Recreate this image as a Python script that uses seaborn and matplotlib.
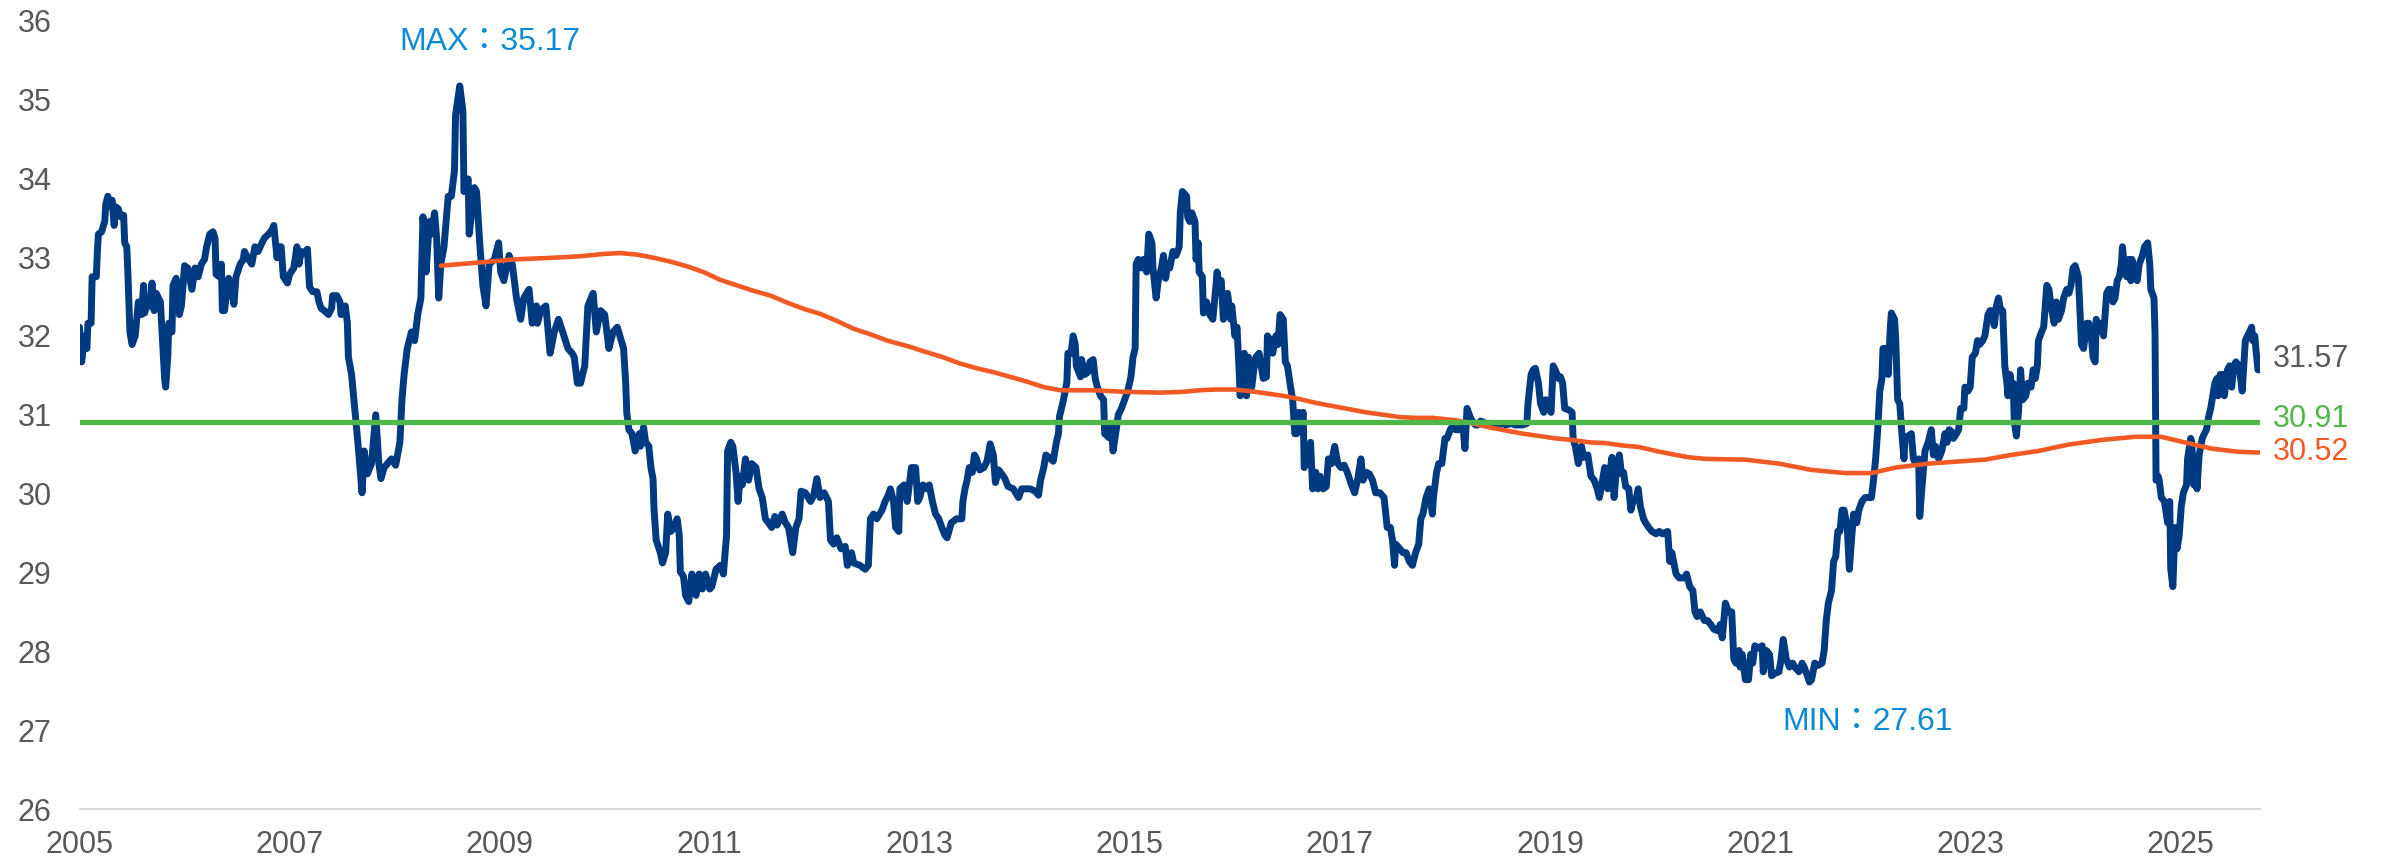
import matplotlib
matplotlib.use("Agg")
import matplotlib.pyplot as plt
import pandas as pd
import seaborn as sns

# ---------------------------------------------------------------- data
# Exchange-rate series (decimal year, value)
rate_t = [
    2005.00, 2005.02, 2005.05, 2005.07, 2005.08, 2005.11, 2005.12, 2005.16, 2005.17, 2005.18,
    2005.21, 2005.24, 2005.25, 2005.27, 2005.29, 2005.31, 2005.33, 2005.34, 2005.37, 2005.39,
    2005.42, 2005.43, 2005.45, 2005.46, 2005.48, 2005.50, 2005.53, 2005.56, 2005.59, 2005.61,
    2005.62, 2005.65, 2005.67, 2005.69, 2005.71, 2005.73, 2005.77, 2005.79, 2005.81, 2005.82,
    2005.84, 2005.85, 2005.88, 2005.89, 2005.92, 2005.95, 2005.97,
    2006.00, 2006.03, 2006.07, 2006.10, 2006.13, 2006.16, 2006.19, 2006.21, 2006.24, 2006.27,
    2006.29, 2006.30, 2006.33, 2006.35, 2006.36, 2006.38, 2006.42, 2006.45, 2006.47, 2006.49,
    2006.53, 2006.56, 2006.57, 2006.61, 2006.64, 2006.67, 2006.70, 2006.73, 2006.76, 2006.80,
    2006.83, 2006.85, 2006.88, 2006.90, 2006.92, 2006.94, 2006.98,
    2007.00, 2007.04, 2007.07, 2007.09, 2007.11, 2007.14, 2007.17, 2007.19, 2007.22, 2007.26,
    2007.28, 2007.30, 2007.33, 2007.37, 2007.40, 2007.41, 2007.45, 2007.48, 2007.49, 2007.53,
    2007.55, 2007.56, 2007.59, 2007.62, 2007.65, 2007.69, 2007.71, 2007.74, 2007.78, 2007.82,
    2007.85, 2007.87, 2007.90, 2007.97,
    2008.01, 2008.05, 2008.07, 2008.09, 2008.12, 2008.16, 2008.19, 2008.22, 2008.25, 2008.27,
    2008.30, 2008.33, 2008.35, 2008.38, 2008.40, 2008.42, 2008.44, 2008.47, 2008.51, 2008.54,
    2008.57, 2008.58, 2008.62, 2008.65, 2008.66, 2008.70, 2008.71, 2008.76, 2008.78, 2008.81,
    2008.84, 2008.87, 2008.90, 2008.95, 2008.99,
    2009.01, 2009.04, 2009.09, 2009.12, 2009.16, 2009.20, 2009.23, 2009.28, 2009.31, 2009.35,
    2009.36, 2009.39, 2009.44, 2009.48, 2009.52, 2009.56, 2009.60, 2009.65, 2009.69, 2009.71,
    2009.74, 2009.77, 2009.81, 2009.84, 2009.89, 2009.92, 2009.96,
    2010.00, 2010.04, 2010.08, 2010.12, 2010.18, 2010.20, 2010.21, 2010.23, 2010.26, 2010.29,
    2010.33, 2010.34, 2010.37, 2010.39, 2010.42, 2010.44, 2010.46, 2010.47, 2010.49, 2010.53,
    2010.55, 2010.58, 2010.60, 2010.63, 2010.66, 2010.69, 2010.71, 2010.72, 2010.75, 2010.77,
    2010.80, 2010.83, 2010.87, 2010.90, 2010.93, 2010.96,
    2011.00, 2011.02, 2011.06, 2011.10, 2011.13, 2011.16, 2011.17, 2011.20, 2011.22, 2011.25,
    2011.27, 2011.29, 2011.31, 2011.34, 2011.37, 2011.40, 2011.44, 2011.47, 2011.50, 2011.53,
    2011.56, 2011.59, 2011.62, 2011.64, 2011.69, 2011.72, 2011.75, 2011.79, 2011.82, 2011.85,
    2011.87, 2011.91, 2011.96, 2011.99,
    2012.02, 2012.05, 2012.09, 2012.13, 2012.15, 2012.18, 2012.21, 2012.25, 2012.29, 2012.31,
    2012.35, 2012.37, 2012.43, 2012.48, 2012.51, 2012.53, 2012.56, 2012.59, 2012.64, 2012.67,
    2012.70, 2012.72, 2012.75, 2012.77, 2012.80, 2012.81, 2012.85, 2012.88, 2012.90, 2012.92,
    2012.96, 2012.98,
    2013.00, 2013.03, 2013.07, 2013.09, 2013.12, 2013.15, 2013.18, 2013.21, 2013.24, 2013.26,
    2013.30, 2013.35, 2013.40, 2013.41, 2013.43, 2013.45, 2013.47, 2013.50, 2013.52, 2013.54,
    2013.57, 2013.61, 2013.64, 2013.67, 2013.70, 2013.72, 2013.75, 2013.78, 2013.81, 2013.84,
    2013.89, 2013.94, 2013.97,
    2014.00, 2014.05, 2014.10, 2014.13, 2014.15, 2014.18, 2014.20, 2014.23, 2014.27, 2014.30,
    2014.32, 2014.33, 2014.36, 2014.38, 2014.40, 2014.41, 2014.44, 2014.46, 2014.48, 2014.49,
    2014.53, 2014.54, 2014.57, 2014.60, 2014.62, 2014.65, 2014.67, 2014.69, 2014.72, 2014.75,
    2014.76, 2014.80, 2014.82, 2014.84, 2014.87, 2014.89, 2014.92, 2014.95, 2014.98,
    2015.01, 2015.03, 2015.05, 2015.06, 2015.08, 2015.11, 2015.13, 2015.16, 2015.18, 2015.21,
    2015.22, 2015.25, 2015.27, 2015.30, 2015.32, 2015.34, 2015.36, 2015.38, 2015.41, 2015.44,
    2015.47, 2015.48, 2015.50, 2015.54, 2015.55, 2015.57, 2015.59, 2015.62, 2015.63, 2015.65,
    2015.66, 2015.69, 2015.70, 2015.73, 2015.76, 2015.79, 2015.82, 2015.83, 2015.85, 2015.87,
    2015.89, 2015.91, 2015.93, 2015.96, 2015.97,
    2016.00, 2016.02, 2016.04, 2016.05, 2016.07, 2016.09, 2016.11, 2016.13, 2016.16, 2016.18,
    2016.20, 2016.23, 2016.27, 2016.30, 2016.31, 2016.34, 2016.36, 2016.39, 2016.41, 2016.43,
    2016.46, 2016.48, 2016.50, 2016.53, 2016.55, 2016.57, 2016.59, 2016.61, 2016.63, 2016.65,
    2016.66, 2016.69, 2016.72, 2016.74, 2016.77, 2016.79, 2016.81, 2016.84, 2016.87, 2016.89,
    2016.92, 2016.95, 2016.98,
    2017.01, 2017.04, 2017.07, 2017.11, 2017.14, 2017.17, 2017.20, 2017.22, 2017.25, 2017.28,
    2017.31, 2017.34, 2017.38, 2017.42, 2017.45, 2017.48, 2017.50, 2017.52, 2017.53, 2017.57,
    2017.60, 2017.63, 2017.66, 2017.69, 2017.72, 2017.75, 2017.77, 2017.79, 2017.82, 2017.85,
    2017.88, 2017.89, 2017.92, 2017.94, 2017.97,
    2018.00, 2018.02, 2018.05, 2018.08, 2018.10, 2018.13, 2018.17, 2018.19, 2018.21, 2018.24,
    2018.26, 2018.29, 2018.31, 2018.34, 2018.39, 2018.44, 2018.48, 2018.55, 2018.58, 2018.63,
    2018.67, 2018.74, 2018.78, 2018.79, 2018.82, 2018.84, 2018.86, 2018.89, 2018.91, 2018.94,
    2018.96,
    2019.01, 2019.03, 2019.05, 2019.08, 2019.10, 2019.12, 2019.14, 2019.18, 2019.21, 2019.22,
    2019.24, 2019.27, 2019.30, 2019.32, 2019.36, 2019.39, 2019.42, 2019.45, 2019.47, 2019.50,
    2019.52, 2019.55, 2019.57, 2019.59, 2019.61, 2019.63, 2019.66, 2019.68, 2019.70, 2019.72,
    2019.75, 2019.77, 2019.79, 2019.82, 2019.84, 2019.86, 2019.89, 2019.91, 2019.94, 2019.97,
    2020.01, 2020.04, 2020.07, 2020.12, 2020.14, 2020.16, 2020.20, 2020.23, 2020.28, 2020.30,
    2020.33, 2020.36, 2020.38, 2020.40, 2020.43, 2020.47, 2020.50, 2020.53, 2020.56, 2020.60,
    2020.62, 2020.64, 2020.67, 2020.70, 2020.73, 2020.75, 2020.77, 2020.80, 2020.81, 2020.83,
    2020.86, 2020.89, 2020.91, 2020.93, 2020.95, 2020.99,
    2021.02, 2021.03, 2021.06, 2021.09, 2021.11, 2021.14, 2021.18, 2021.20, 2021.22, 2021.25,
    2021.28, 2021.31, 2021.33, 2021.37, 2021.40, 2021.42, 2021.45, 2021.47, 2021.49, 2021.52,
    2021.55, 2021.59, 2021.61, 2021.63, 2021.65, 2021.68, 2021.70, 2021.72, 2021.74, 2021.76,
    2021.78, 2021.80, 2021.83, 2021.85, 2021.87, 2021.89, 2021.92, 2021.94, 2021.97,
    2022.00, 2022.03, 2022.06, 2022.08, 2022.10, 2022.12, 2022.14, 2022.16, 2022.17, 2022.21,
    2022.22, 2022.24, 2022.25, 2022.28, 2022.29, 2022.31, 2022.33, 2022.35, 2022.37, 2022.38,
    2022.41, 2022.44, 2022.46, 2022.48, 2022.51, 2022.52, 2022.54, 2022.57, 2022.60, 2022.63,
    2022.65, 2022.67, 2022.70, 2022.73, 2022.76, 2022.78, 2022.80, 2022.82, 2022.84, 2022.87,
    2022.89, 2022.91, 2022.94, 2022.95, 2022.98,
    2023.00, 2023.02, 2023.05, 2023.07, 2023.09, 2023.12, 2023.14, 2023.17, 2023.19, 2023.20,
    2023.23, 2023.25, 2023.27, 2023.29, 2023.31, 2023.33, 2023.35, 2023.36, 2023.38, 2023.39,
    2023.41, 2023.42, 2023.44, 2023.46, 2023.48, 2023.50, 2023.53, 2023.55, 2023.58, 2023.60,
    2023.62, 2023.64, 2023.65, 2023.68, 2023.70, 2023.73, 2023.75, 2023.77, 2023.80, 2023.82,
    2023.84, 2023.87, 2023.89, 2023.92, 2023.94, 2023.96, 2023.98,
    2024.00, 2024.03, 2024.04, 2024.06, 2024.08, 2024.11, 2024.13, 2024.15, 2024.17, 2024.19,
    2024.20, 2024.22, 2024.25, 2024.27, 2024.30, 2024.32, 2024.34, 2024.36, 2024.38, 2024.40,
    2024.42, 2024.44, 2024.45, 2024.47, 2024.49, 2024.51, 2024.53, 2024.54, 2024.57, 2024.59,
    2024.61, 2024.64, 2024.66, 2024.69, 2024.71, 2024.72, 2024.75, 2024.76, 2024.77, 2024.79,
    2024.80, 2024.82, 2024.85, 2024.88, 2024.90, 2024.91, 2024.93, 2024.95, 2024.97, 2024.99,
    2025.01, 2025.03, 2025.06, 2025.07, 2025.10, 2025.11, 2025.13, 2025.15, 2025.16, 2025.18,
    2025.21, 2025.23, 2025.25, 2025.27, 2025.29, 2025.31, 2025.33, 2025.35, 2025.36, 2025.38,
    2025.41, 2025.42, 2025.45, 2025.47, 2025.49, 2025.51, 2025.53, 2025.56, 2025.57, 2025.59,
    2025.61, 2025.62, 2025.64, 2025.66, 2025.68, 2025.69, 2025.71, 2025.72, 2025.74, 2025.76,
]
rate_v = [
    32.11, 31.67, 32.00, 31.84, 32.16, 32.16, 32.75, 32.75, 33.07, 33.29,
    33.32, 33.45, 33.67, 33.77, 33.64, 33.72, 33.40, 33.64, 33.61, 33.51,
    33.53, 33.18, 33.13, 32.81, 32.05, 31.89, 32.00, 32.43, 32.27, 32.64,
    32.29, 32.43, 32.38, 32.67, 32.32, 32.54, 32.43, 31.94, 31.46, 31.35,
    31.73, 32.16, 32.05, 32.64, 32.73, 32.27, 32.38,
    32.89, 32.86, 32.59, 32.86, 32.75, 32.91, 32.97, 33.13, 33.29, 33.32,
    33.24, 32.78, 32.75, 32.91, 32.32, 32.32, 32.73, 32.59, 32.40, 32.75,
    32.91, 32.97, 33.07, 32.97, 32.91, 33.13, 33.07, 33.16, 33.24, 33.29,
    33.34, 33.40, 32.99, 33.13, 33.13, 32.75, 32.67,
    32.78, 32.86, 33.13, 32.91, 33.07, 33.05, 33.10, 32.62, 32.56, 32.56,
    32.43, 32.35, 32.32, 32.27, 32.35, 32.51, 32.51, 32.43, 32.27, 32.38,
    32.16, 31.73, 31.51, 31.08, 30.65, 30.01, 30.54, 30.25, 30.38, 31.00,
    30.38, 30.19, 30.33, 30.44,
    30.36, 30.65, 31.19, 31.51, 31.84, 32.05, 31.94, 32.27, 32.48, 33.51,
    32.81, 33.45, 33.29, 33.56, 33.24, 32.48, 32.91, 33.13, 33.77, 33.77,
    34.10, 34.80, 35.17, 34.85, 33.83, 33.99, 33.29, 33.88, 33.83, 33.18,
    32.64, 32.38, 32.91, 32.97, 33.18,
    32.81, 32.70, 33.02, 32.91, 32.48, 32.21, 32.48, 32.59, 32.16, 32.38,
    32.16, 32.32, 32.38, 31.78, 32.05, 32.21, 32.05, 31.84, 31.78, 31.73,
    31.40, 31.40, 31.62, 32.38, 32.54, 32.05, 32.32,
    32.27, 31.84, 32.05, 32.11, 31.84, 31.40, 31.03, 30.81, 30.76, 30.54,
    30.76, 30.60, 30.84, 30.65, 30.60, 30.33, 30.19, 29.79, 29.41, 29.25,
    29.12, 29.25, 29.74, 29.52, 29.57, 29.68, 29.47, 29.01, 28.95, 28.71,
    28.63, 28.98, 28.71, 28.98, 28.79, 28.98,
    28.79, 28.82, 29.04, 29.09, 28.98, 29.47, 30.54, 30.65, 30.60, 30.27,
    29.90, 30.22, 30.11, 30.44, 30.17, 30.38, 30.33, 30.06, 29.95, 29.68,
    29.63, 29.57, 29.71, 29.60, 29.74, 29.63, 29.57, 29.25, 29.57, 29.68,
    30.03, 30.01, 29.90, 29.98,
    30.19, 29.95, 30.01, 29.90, 29.41, 29.36, 29.44, 29.30, 29.33, 29.09,
    29.25, 29.12, 29.09, 29.04, 29.09, 29.68, 29.74, 29.68, 29.79, 29.90,
    29.98, 30.06, 29.90, 29.57, 29.52, 30.06, 30.11, 29.90, 30.11, 30.33,
    30.33, 29.90,
    29.95, 30.11, 30.06, 30.11, 29.90, 29.74, 29.68, 29.57, 29.47, 29.44,
    29.63, 29.68, 29.68, 29.90, 30.06, 30.17, 30.33, 30.27, 30.49, 30.44,
    30.30, 30.33, 30.41, 30.63, 30.49, 30.14, 30.30, 30.25, 30.19, 30.09,
    30.06, 29.95, 30.06,
    30.06, 30.06, 30.03, 29.98, 30.17, 30.33, 30.49, 30.46, 30.41, 30.65,
    30.76, 30.98, 31.14, 31.27, 31.41, 31.78, 31.78, 32.00, 31.89, 31.62,
    31.48, 31.70, 31.51, 31.54, 31.67, 31.70, 31.46, 31.35, 31.24, 31.19,
    30.76, 30.71, 30.87, 30.54, 30.81, 31.00, 31.08, 31.19, 31.30,
    31.48, 31.73, 31.84, 32.91, 32.97, 32.86, 32.97, 32.81, 33.29, 33.18,
    32.86, 32.48, 32.70, 32.86, 33.02, 32.73, 32.91, 32.86, 33.07, 33.02,
    33.13, 33.56, 33.83, 33.77, 33.51, 33.45, 33.56, 33.45, 32.97, 33.18,
    32.81, 32.75, 32.29, 32.43, 32.27, 32.21, 32.64, 32.81, 32.64, 32.70,
    32.21, 32.27, 32.54, 32.21, 32.38,
    32.00, 32.11, 31.57, 31.24, 31.62, 31.78, 31.24, 31.73, 31.35, 31.57,
    31.73, 31.78, 31.46, 31.48, 32.00, 31.94, 31.78, 32.00, 31.89, 32.27,
    32.21, 31.67, 31.62, 31.35, 31.19, 30.76, 30.76, 31.03, 30.92, 31.03,
    30.33, 30.44, 30.65, 30.06, 30.27, 30.06, 30.22, 30.06, 30.09, 30.44,
    30.38, 30.60, 30.38,
    30.33, 30.36, 30.27, 30.11, 30.01, 30.19, 30.44, 30.17, 30.27, 30.25,
    30.17, 30.01, 30.01, 29.95, 29.57, 29.57, 29.41, 29.09, 29.36, 29.30,
    29.25, 29.25, 29.14, 29.09, 29.25, 29.36, 29.68, 29.74, 29.95, 30.06,
    29.74, 29.95, 30.27, 30.38, 30.38,
    30.70, 30.70, 30.81, 30.87, 30.81, 30.81, 30.87, 30.57, 31.08, 30.97,
    30.92, 30.87, 30.87, 30.92, 30.89, 30.89, 30.87, 30.89, 30.87, 30.89,
    30.87, 30.87, 30.89, 31.14, 31.51, 31.57, 31.59, 31.40, 31.14, 31.03,
    31.19,
    31.03, 31.62, 31.57, 31.46, 31.48, 31.40, 31.08, 31.06, 31.03, 30.70,
    30.60, 30.38, 30.60, 30.46, 30.49, 30.22, 30.17, 30.06, 29.95, 30.17,
    30.33, 30.06, 30.27, 30.46, 29.95, 30.27, 30.49, 30.25, 30.27, 30.09,
    30.06, 29.79, 29.90, 29.93, 30.06, 29.84, 29.68, 29.63, 29.57, 29.52,
    29.49, 29.52, 29.49, 29.52, 29.14, 29.25, 28.98, 28.93, 28.93, 28.98,
    28.82, 28.77, 28.50, 28.44, 28.50, 28.39, 28.39, 28.34, 28.28, 28.26,
    28.34, 28.17, 28.61, 28.50, 28.50, 27.90, 27.85, 28.01, 27.80, 27.96,
    27.64, 27.64, 27.96, 27.85, 28.07, 28.04,
    28.07, 27.74, 28.01, 27.96, 27.69, 27.72, 27.74, 27.90, 28.15, 27.90,
    27.80, 27.85, 27.80, 27.74, 27.85, 27.80, 27.69, 27.61, 27.64, 27.85,
    27.82, 27.85, 28.01, 28.39, 28.61, 28.77, 29.14, 29.20, 29.52, 29.52,
    29.79, 29.79, 29.57, 29.04, 29.41, 29.74, 29.63, 29.79, 29.90,
    29.95, 29.95, 29.95, 30.17, 30.44, 30.81, 31.30, 31.46, 31.84, 31.84,
    31.51, 32.11, 32.29, 32.21, 32.00, 31.19, 31.14, 30.76, 30.44, 30.70,
    30.73, 30.76, 30.44, 30.38, 30.44, 29.71, 30.06, 30.54, 30.65, 30.81,
    30.49, 30.60, 30.44, 30.54, 30.76, 30.65, 30.81, 30.79, 30.70, 30.76,
    30.81, 31.08, 31.08, 31.35, 31.30,
    31.35, 31.73, 31.78, 31.94, 31.89, 31.94, 32.00, 32.27, 32.32, 32.32,
    32.13, 32.38, 32.48, 32.32, 32.32, 31.62, 31.40, 31.24, 31.51, 31.30,
    31.40, 30.92, 30.73, 31.03, 31.57, 31.19, 31.24, 31.40, 31.35, 31.57,
    31.46, 31.62, 31.94, 32.05, 32.11, 32.64, 32.59, 32.38, 32.16, 32.43,
    32.21, 32.32, 32.48, 32.59, 32.54, 32.64, 32.86,
    32.89, 32.75, 32.48, 31.89, 31.84, 32.16, 32.16, 32.05, 31.73, 31.67,
    32.21, 32.05, 32.16, 32.00, 32.54, 32.59, 32.59, 32.43, 32.48, 32.70,
    32.75, 32.91, 33.13, 32.86, 32.75, 32.97, 32.70, 32.97, 32.75, 32.70,
    32.91, 33.02, 33.13, 33.18, 32.91, 32.59, 32.48, 32.05, 30.17, 30.22,
    30.17, 29.95, 29.90, 29.63, 29.90, 29.04, 28.82, 29.57, 29.30, 29.47,
    29.84, 30.01, 30.11, 30.44, 30.70, 30.65, 30.11, 30.33, 30.06, 30.49,
    30.70, 30.76, 30.81, 30.97, 31.08, 31.24, 31.40, 31.46, 31.24, 31.51,
    31.51, 31.24, 31.57, 31.62, 31.35, 31.62, 31.67, 31.62, 31.51, 31.30,
    31.73, 31.94, 32.00, 32.05, 32.11, 31.94, 32.00, 31.84, 31.57, 31.57,
]

# Long moving average (starts once enough history is available)
ma_t = [
    2008.44, 2008.80, 2009.14, 2009.50, 2009.77, 2010.00, 2010.15, 2010.31, 2010.47, 2010.63,
    2010.79, 2010.94, 2011.10, 2011.26, 2011.42, 2011.58, 2011.74, 2011.90, 2012.05, 2012.21,
    2012.37, 2012.53, 2012.69, 2012.91, 2013.07, 2013.22, 2013.38, 2013.54, 2013.70, 2013.86,
    2014.02, 2014.18, 2014.34, 2014.65, 2014.97, 2015.29, 2015.50, 2015.66, 2015.82, 2015.98,
    2016.14, 2016.30, 2016.46, 2016.61, 2016.77, 2016.93, 2017.09, 2017.25, 2017.41, 2017.57,
    2017.72, 2017.88, 2018.10, 2018.26, 2018.42, 2018.58, 2018.74, 2018.90, 2019.05, 2019.21,
    2019.37, 2019.53, 2019.69, 2019.85, 2020.01, 2020.16, 2020.32, 2020.48, 2020.86, 2021.18,
    2021.49, 2021.81, 2022.06, 2022.29, 2022.60, 2022.92, 2023.14, 2023.39, 2023.65, 2023.93,
    2024.25, 2024.57, 2024.82, 2025.04, 2025.30, 2025.55, 2025.76,
]
ma_v = [
    32.89, 32.93, 32.97, 32.99, 33.01, 33.04, 33.05, 33.03, 32.99, 32.94,
    32.88, 32.81, 32.71, 32.64, 32.57, 32.51, 32.42, 32.34, 32.28, 32.19,
    32.09, 32.02, 31.94, 31.86, 31.79, 31.73, 31.65, 31.59, 31.54, 31.48,
    31.42, 31.35, 31.31, 31.31, 31.29, 31.28, 31.29, 31.31, 31.32, 31.32,
    31.30, 31.27, 31.24, 31.20, 31.15, 31.11, 31.07, 31.03, 31.00, 30.97,
    30.96, 30.96, 30.93, 30.89, 30.84, 30.80, 30.76, 30.73, 30.70, 30.68,
    30.65, 30.64, 30.61, 30.59, 30.54, 30.50, 30.46, 30.44, 30.43, 30.38,
    30.30, 30.26, 30.26, 30.33, 30.38, 30.41, 30.43, 30.49, 30.54, 30.62,
    30.68, 30.72, 30.72, 30.65, 30.57, 30.53, 30.52,
]

long_run_avg = 30.91
year_ticks = [2005, 2007, 2009, 2011, 2013, 2015, 2017, 2019, 2021, 2023, 2025]
y_ticks = [26, 27, 28, 29, 30, 31, 32, 33, 34, 35, 36]

# ---------------------------------------------------------------- style
NAVY = "#003a80"
ORANGE = "#f15a24"
GREEN = "#50b848"
LABEL_BLUE = "#0a8bd3"
GREY = "#595959"

sns.set_style("white")
plt.rcParams["font.family"] = ["Liberation Sans", "Noto Sans CJK TC", "DejaVu Sans"]

fig = plt.figure(figsize=(23.81, 8.59), dpi=100)
ax = fig.add_axes([0.0334, 0.0582, 0.9158, 0.918])

rate_df = pd.DataFrame({"year": rate_t, "value": rate_v})
ma_df = pd.DataFrame({"year": ma_t, "value": ma_v})

sns.lineplot(data=rate_df, x="year", y="value", ax=ax, color=NAVY, linewidth=5.0,
             estimator=None, sort=False, zorder=2,
             solid_joinstyle="round", solid_capstyle="round")
sns.lineplot(data=ma_df, x="year", y="value", ax=ax, color=ORANGE, linewidth=3.3,
             estimator=None, sort=False, zorder=3,
             solid_joinstyle="round", solid_capstyle="round")
ax.axhline(long_run_avg, color=GREEN, linewidth=3.8, zorder=4)

ax.set_xlim(2005, 2025.76)
ax.set_ylim(26, 36)
ax.set_xticks(year_ticks)
ax.set_xticklabels([str(y) for y in year_ticks])
ax.set_yticks(y_ticks)
ax.set_yticklabels([str(v) for v in y_ticks])
ax.set_xlabel("")
ax.set_ylabel("")

for side in ("left", "right", "top"):
    ax.spines[side].set_visible(False)
ax.spines["bottom"].set_color("#d9d9d9")
ax.spines["bottom"].set_linewidth(1.5)

ax.tick_params(axis="both", length=0, labelsize=22, labelcolor=GREY)
ax.tick_params(axis="x", pad=15)
ax.tick_params(axis="y", pad=20)

# extreme values
hi = max(rate_v)
lo = min(rate_v)
ax.text(2008.91, 35.73, f"MAX：{hi:.2f}", ha="center", va="center",
        fontsize=23, color=LABEL_BLUE)
ax.text(2022.02, 27.10, f"MIN：{lo:.2f}", ha="center", va="center",
        fontsize=23, color=LABEL_BLUE)

# end-of-line values
x_lab = 2025.88
ax.text(x_lab, 31.71, f"{rate_v[-1]:.2f}", ha="left", va="center",
        fontsize=22, color=GREY, clip_on=False)
ax.text(x_lab, 30.95, f"{long_run_avg:.2f}", ha="left", va="center",
        fontsize=22, color=GREEN, clip_on=False)
ax.text(x_lab, 30.53, f"{ma_v[-1]:.2f}", ha="left", va="center",
        fontsize=22, color=ORANGE, clip_on=False)

fig.savefig("out.png", dpi=100)
